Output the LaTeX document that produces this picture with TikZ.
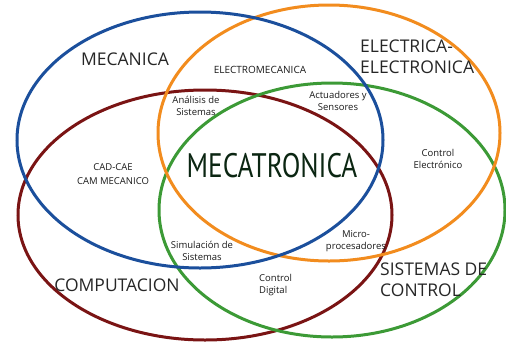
\documentclass[tikz,border=0pt]{standalone}
\usepackage{fontspec}
\setmainfont{Open Sans}
\newfontfamily\centrofonte{PT Sans}
\begin{document}
\begin{tikzpicture}[x=1pt,y=-1pt]
%============================================================
%  Estilos dos conjuntos (elipses) e dos textos
%============================================================
\tikzset{ % sem linha em branco aqui!
    % --- cores das areas ------
    % azul = mecanica, laranja = eletrica, vinho = computacao,
    % verde = controle
    conjunto/.style={ %
            line width=3pt  % linha bem grossa
        },
    % --- textos ------
    rotulo/.style={ %
            inner sep=0pt, %
            align=center, %
            text=black!90, %
            font=\fontsize{9.5}{12.5}\selectfont % letra pequena
        },
    titulo/.style={ %
            inner sep=0pt, %
            align=left, %
            text=black!85, %
            font=\fontsize{17.5}{21}\selectfont % letra grande
        },
}
\definecolor{azul}{HTML}{1B4F9C}
\definecolor{laranja}{HTML}{F28C1E}
\definecolor{vinho}{HTML}{7A1414}
\definecolor{verde}{HTML}{3C9A36}
\definecolor{verdeEscuro}{HTML}{0B2612}

   % area total da figura (margens incluidas)
   \useasboundingbox (0,0) rectangle (506,341);

   % os quatro conjuntos
   \draw[conjunto,vinho]   (205,215) ellipse [x radius=187, y radius=125];
   \draw[conjunto,verde]   (332,210) ellipse [x radius=173, y radius=127];
   \draw[conjunto,laranja] (329,133) ellipse [x radius=171, y radius=128];
   \draw[conjunto,azul]    (200,140) ellipse [x radius=183, y radius=128];

   % nomes das areas
   \node[titulo] (mecanica) at (125,59) {MECANICA};
   \node[titulo,anchor=west] (eletrica) at (360,57) {ELECTRICA-\\ELECTRONICA};
   \node[titulo] (computacao) at (117,285) {COMPUTACION};
   \node[titulo,anchor=west] (controle) at (380,280) {SISTEMAS DE\\CONTROL};

   % intersecoes
   \node[rotulo,font=\fontsize{10}{12}\selectfont] (eletromec) at (260,70) {ELECTROMECANICA};
   \node[rotulo] (analise) at (196,106) {Análisis de\\Sistemas};
   \node[rotulo] (atuadores) at (338,101) {Actuadores y\\Sensores};
   \node[rotulo] (cad) at (113,174) {CAD-CAE\\[2pt]CAM MECANICO};
   \node[rotulo] (eletronico) at (438,159) {Control\\Electrónico};
   \node[rotulo] (simulacao) at (202,251) {Simulación de\\Sistemas};
   \node[rotulo] (micro) at (356,241) {Micro-\\procesadores};
   \node[rotulo,align=left,anchor=west] (digital) at (259,285) {Control\\Digital};

   % centro
   \node[inner sep=0pt,text=verdeEscuro,xscale=0.8,
         font=\centrofonte\fontsize{34}{34}\selectfont] (mecatronica) at (272,166) {MECATRONICA};
\end{tikzpicture}
\end{document}
